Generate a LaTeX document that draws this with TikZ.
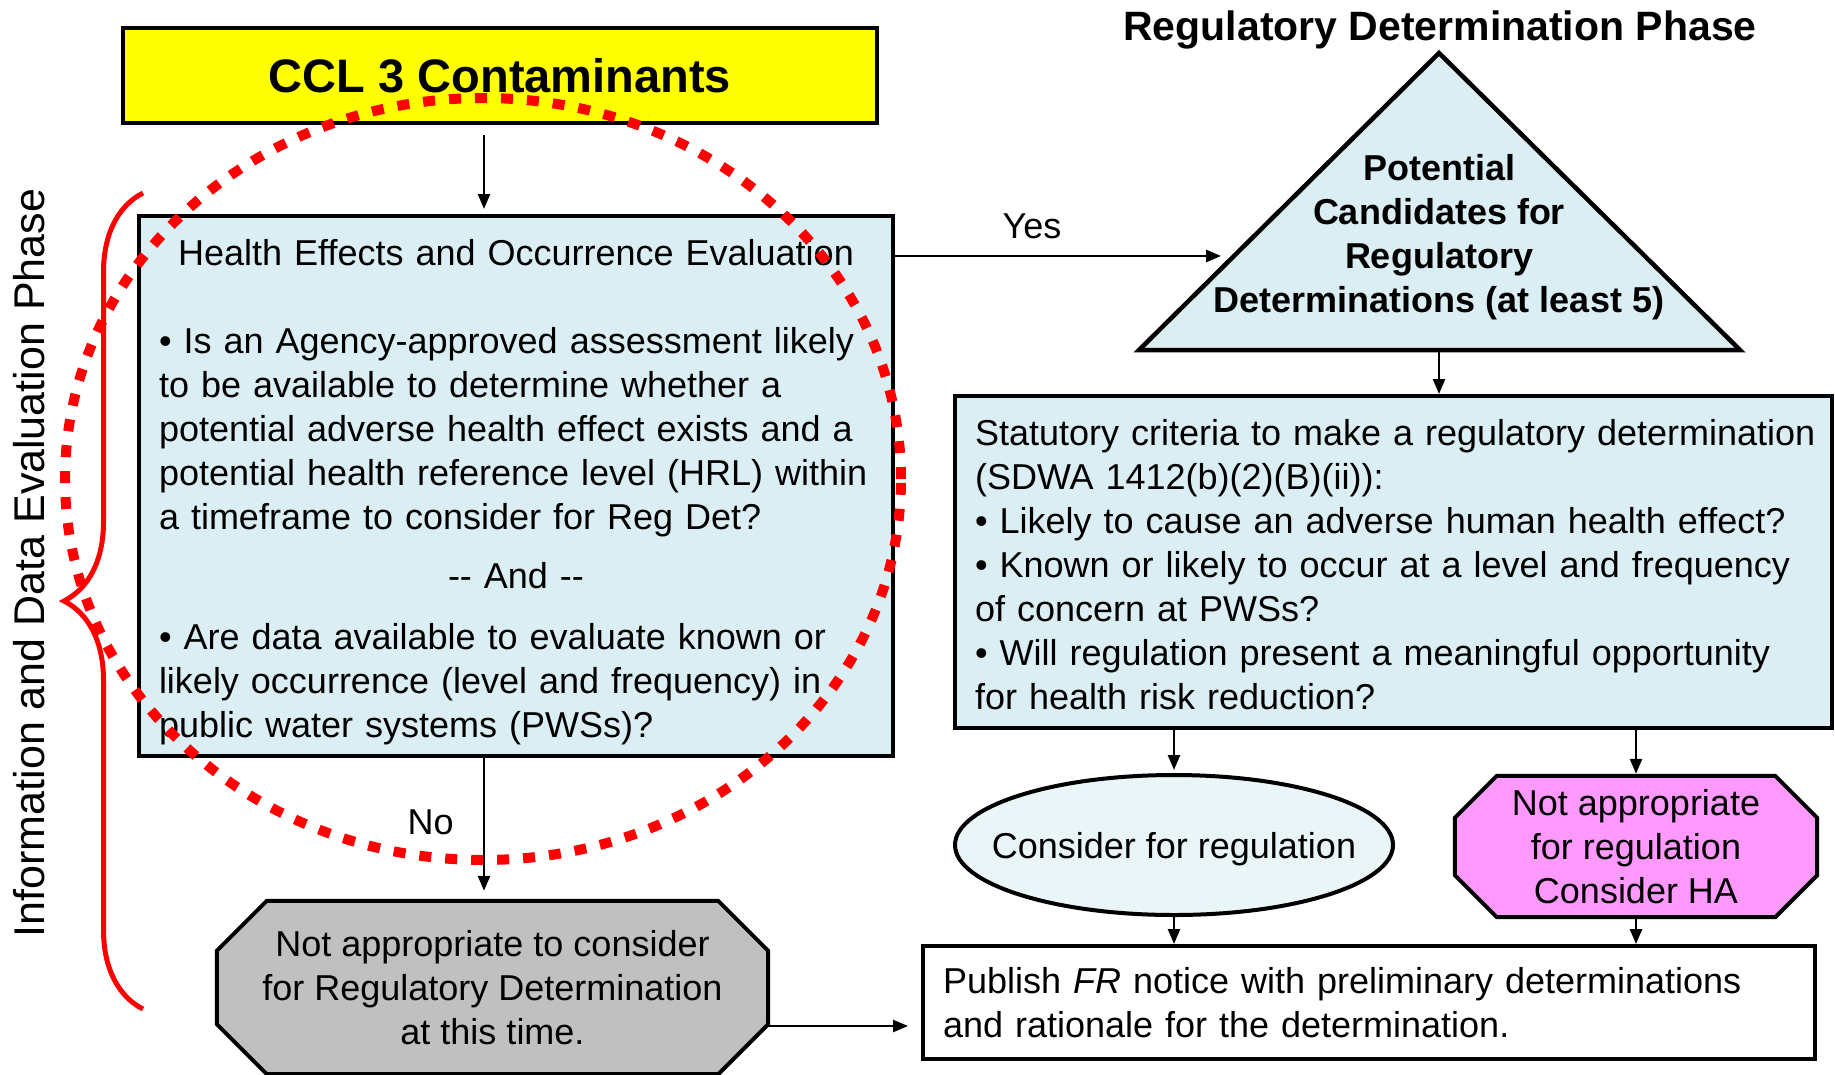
\documentclass[tikz,border=0pt]{standalone}
\usepackage{fontspec}
\setmainfont{Liberation Sans}
\usetikzlibrary{arrows.meta,shapes.geometric,decorations.pathreplacing,backgrounds}

\definecolor{cclyellow}{HTML}{FFFF00}
\definecolor{evalblue}{HTML}{DAEEF3}
\definecolor{ovalblue}{HTML}{E9F5F7}
\definecolor{notpink}{HTML}{FF99FF}
\definecolor{notgray}{HTML}{C0C0C0}
\definecolor{markred}{HTML}{FF0000}

\tikzset{
  txt/.style={font=\fontsize{36}{44}\selectfont},
  bold/.style={font=\fontsize{36}{44}\selectfont\bfseries},
  box/.style={txt, draw, line width=4pt, inner sep=0pt, align=left},
  oct/.style={txt, inner sep=0pt, align=center},
  arr/.style={line width=2.5pt, -{Triangle[length=15pt,width=12pt]}},
}

\begin{document}
\begin{tikzpicture}[x=1pt,y=-1pt]
  \useasboundingbox (0,0) rectangle (1835,1074);
  % Titles
  \node[font=\fontsize{41}{49}\selectfont\bfseries] (title) at (1440,30) {Regulatory Determination Phase};
  \node[rotate=90, font=\fontsize{43}{50}\selectfont] (phase) at (29,563) {Information and Data Evaluation Phase};
  % Boxes
  \node[box, fill=cclyellow, minimum width=754pt, minimum height=95pt, text depth=0pt,
        font=\fontsize{47}{55}\selectfont\bfseries] (ccl) at (500,75.5) {CCL 3 Contaminants};
  \node[box, fill=evalblue, minimum width=754pt, minimum height=540pt, text width=714pt] (eval) at (516,486) {%
    {\centering Health Effects and Occurrence Evaluation\par}
    \vspace{44pt}
    • Is an Agency-approved assessment likely\\
    to be available to determine whether a\\
    potential adverse health effect exists and a\\
    potential health reference level (HRL) within\\
    a timeframe to consider for Reg Det?\par
    \vspace{15pt}
    {\centering -{}- And -{}-\par}
    \vspace{17pt}
    • Are data available to evaluate known or\\
    likely occurrence (level and frequency) in\\
    public water systems (PWSs)?\par
    \kern-12pt};
  \node[box, fill=evalblue, minimum width=877pt, minimum height=332pt, text width=837pt] (stat) at (1393.5,562) {%
    \mbox{Statutory criteria to make a regulatory determination}\\
    (SDWA 1412(b)(2)(B)(ii)):\\
    • Likely to cause an adverse human health effect?\\
    • Known or likely to occur at a level and frequency\\
    of concern at PWSs?\\
    • Will regulation present a meaningful opportunity\\
    for health risk reduction?\par
    \kern-5pt};
  \node[box, fill=white, minimum width=892pt, minimum height=113pt, text width=852pt] (pub) at (1369,1002.5) {%
    Publish \textit{FR} notice with preliminary determinations\\
    and rationale for the determination.};
  \node[txt, draw, ellipse, line width=4pt, fill=ovalblue, minimum width=438pt, minimum height=140pt,
        inner sep=0pt, text depth=0pt] (reg) at (1174,845) {\makebox[0pt]{Consider for regulation}};
  % Triangle
  \coordinate (apex) at (1439,53);
  \coordinate (bl) at (1139,350);
  \coordinate (br) at (1740,350);
  \draw[line width=4.5pt, fill=evalblue] (apex) -- (bl) -- (br) -- cycle;
  \node[bold, align=center] (cand) at (1439,237.5) {Potential\\Candidates for\\Regulatory\\Determinations (at least 5)};
  % Octagons
  \node[oct, minimum width=551pt, minimum height=173pt, yshift=-2pt] (skip) at (492.5,985.5) {Not appropriate to consider\\for Regulatory Determination\\at this time.};
  \node[oct, minimum width=362pt, minimum height=141pt, yshift=-2pt] (nfr) at (1636,844.5) {Not appropriate\\for regulation\\Consider HA};
  \begin{scope}[on background layer]
    \draw[line width=4pt, fill=notgray]
      ([xshift=50pt]skip.north west) -- ([xshift=-50pt]skip.north east) -- ([yshift=-50pt]skip.north east)
      -- ([yshift=50pt]skip.south east) -- ([xshift=-50pt]skip.south east) -- ([xshift=50pt]skip.south west)
      -- ([yshift=50pt]skip.south west) -- ([yshift=-50pt]skip.north west) -- cycle;
    \draw[line width=4pt, fill=notpink]
      ([xshift=42pt]nfr.north west) -- ([xshift=-42pt]nfr.north east) -- ([yshift=-42pt]nfr.north east)
      -- ([yshift=42pt]nfr.south east) -- ([xshift=-42pt]nfr.south east) -- ([xshift=42pt]nfr.south west)
      -- ([yshift=42pt]nfr.south west) -- ([yshift=-42pt]nfr.north west) -- cycle;
  \end{scope}
  % Arrows
  \coordinate (spine) at (484,0);
  \coordinate (yes) at (1221,256);
  \coordinate (pubin) at (908,1026);
  \draw[arr, shorten <=10pt, shorten >=5pt] (ccl.south -| spine) -- (eval.north -| spine);
  \draw[arr, shorten >=10pt] (eval.south -| spine) -- node[pos=0.45, left=29pt, inner sep=0pt, txt] {No} (skip.north -| spine);
  \draw[arr] (eval.east |- yes) -- node[pos=0.42, above=16pt, inner sep=0pt, txt] {Yes} (yes);
  \draw[arr] (apex |- bl) -- (apex |- stat.north);
  \draw[arr, shorten >=3pt] (stat.south -| reg) -- (reg.north);
  \draw[arr, shorten >=2pt] (stat.south -| nfr) -- (nfr.north);
  \draw[arr] (reg.south) -- (reg.south |- pub.north);
  \draw[arr] (nfr.south) -- (nfr.south |- pub.north);
  \draw[arr] (skip.east |- pubin) -- (pubin);
  % Marks
  \draw[markred, line width=5pt, decorate, decoration={brace, amplitude=79pt, aspect=0.5}] (143,1009) -- (143,193);
  \draw[markred, line width=10pt, dash pattern=on 12pt off 14pt] (483,479) ellipse [x radius=418pt, y radius=381pt];
\end{tikzpicture}
\end{document}
